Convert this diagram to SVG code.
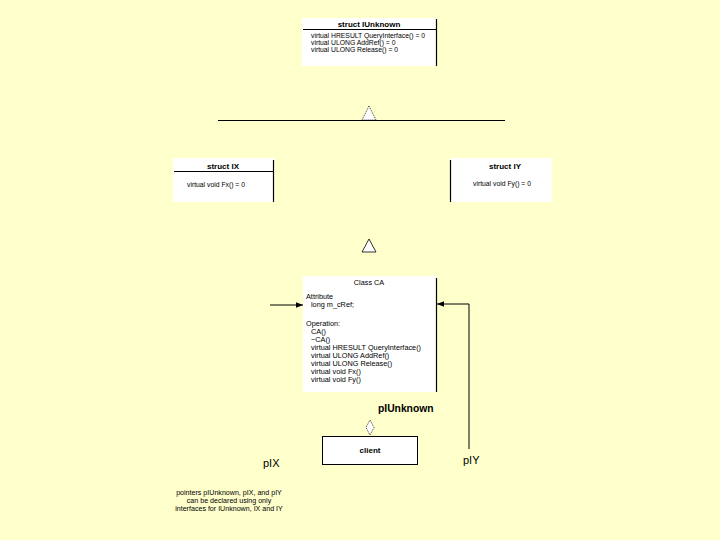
<svg xmlns="http://www.w3.org/2000/svg" width="720" height="540" viewBox="0 0 720 540">
<defs>
<style>
.box{fill:#ffffff;stroke:none}
.edge{stroke:#000;stroke-width:1.2;fill:none}
.t{font-family:"Liberation Sans",Arial,sans-serif;font-size:6.8px;fill:#000}
.ca{font-family:"Liberation Sans",Arial,sans-serif;font-size:7.3px;fill:#000}
.bt{font-family:"Liberation Sans",Arial,sans-serif;font-size:7.1px;fill:#000}
.title{font-family:"Liberation Sans",Arial,sans-serif;font-size:8px;font-weight:bold;fill:#000}
.lbl{font-family:"Liberation Sans",Arial,sans-serif;font-size:11px;fill:#000}
.line{stroke:#000;stroke-width:1;fill:none}
</style>
<marker id="arr" viewBox="0 0 10 10" refX="10" refY="5" markerWidth="7" markerHeight="7" orient="auto" markerUnits="userSpaceOnUse">
<path d="M0,1 L10,5 L0,9 z" fill="#000"/>
</marker>
</defs>
<rect width="720" height="540" fill="#ffffcc"/>

<g id="IUnknown">
<rect class="box" x="302" y="18" width="135" height="48"/>
<line class="edge" x1="436.5" y1="19" x2="436.5" y2="66"/>
<line class="line" x1="303" y1="29.5" x2="436" y2="29.5"/>
<text class="title" x="369" y="27" text-anchor="middle">struct IUnknown</text>
<text class="t" x="311" y="38">virtual HRESULT QueryInterface() = 0</text>
<text class="t" x="311" y="45">virtual ULONG AddRef() = 0</text>
<text class="t" x="311" y="52">virtual ULONG Release() = 0</text>
</g>

<g id="IX">
<rect class="box" x="173" y="158" width="101" height="44"/>
<line class="edge" x1="273.5" y1="160" x2="273.5" y2="202"/>
<line class="line" x1="174" y1="171.5" x2="273" y2="171.5"/>
<text class="title" x="223" y="169" text-anchor="middle">struct IX</text>
<text class="t" x="187" y="187">virtual void Fx() = 0</text>
</g>

<g id="IY">
<rect class="box" x="450" y="158" width="102" height="44"/>
<line class="edge" x1="450.5" y1="160" x2="450.5" y2="202"/>
<text class="title" x="505" y="169" text-anchor="middle">struct IY</text>
<text class="t" x="473" y="186">virtual void Fy() = 0</text>
</g>

<g id="CA">
<rect class="box" x="303" y="276" width="134" height="116"/>
<line class="edge" x1="436.5" y1="278" x2="436.5" y2="392"/>
<text class="ca" x="369" y="285" text-anchor="middle">Class CA</text>
<text class="ca" x="306" y="299">Attribute</text>
<text class="ca" x="311" y="307">long m_cRef;</text>
<text class="ca" x="306" y="326">Operation:</text>
<text class="ca" x="311" y="334">CA()</text>
<text class="ca" x="311" y="342">~CA()</text>
<text class="ca" x="311" y="350">virtual HRESULT QueryInterface()</text>
<text class="ca" x="311" y="358">virtual ULONG AddRef()</text>
<text class="ca" x="311" y="366">virtual ULONG Release()</text>
<text class="ca" x="311" y="374">virtual void Fx()</text>
<text class="ca" x="311" y="382">virtual void Fy()</text>
</g>

<g id="client">
<rect x="322.5" y="436.5" width="95" height="28" fill="#fff" stroke="#000" stroke-width="1"/>
<text class="title" x="370" y="453" text-anchor="middle">client</text>
</g>

<g id="connectors">
<line class="line" x1="218" y1="120.5" x2="505" y2="120.5"/>
<path d="M369,106 L362,120 L376,120 Z" fill="#fff" stroke="#000" stroke-width="0.8" stroke-dasharray="1,1"/>
<path d="M369,239 L362,252 L376,252 Z" fill="#fff" stroke="#000" stroke-width="0.8"/>
<line class="line" x1="270" y1="305" x2="303" y2="305" marker-end="url(#arr)"/>
<polyline class="line" points="469,449 469,304 437,304" marker-end="url(#arr)"/>
<path d="M370,420 L374,427.5 L370,435 L366,427.5 Z" fill="#fff" stroke="#000" stroke-width="0.8" stroke-dasharray="1,1"/>
</g>

<text x="378" y="412" font-family="'Liberation Sans',Arial,sans-serif" font-size="10.3" font-weight="bold">pIUnknown</text>
<text class="lbl" x="263" y="467">pIX</text>
<text class="lbl" x="463" y="464">pIY</text>
<text class="bt" x="229" y="495" text-anchor="middle">pointers pIUnknown, pIX, and pIY</text>
<text class="bt" x="229" y="503" text-anchor="middle">can be declared using only</text>
<text class="bt" x="229" y="511" text-anchor="middle">interfaces for IUnknown, IX and IY</text>
</svg>
